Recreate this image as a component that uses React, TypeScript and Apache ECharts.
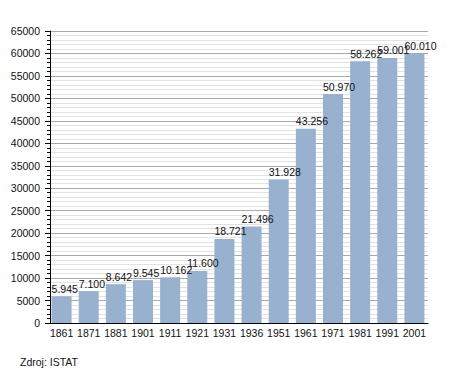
import React, { useEffect, useRef } from "react";
import * as echarts from "echarts";

const years = ["1861", "1871", "1881", "1901", "1911", "1921", "1931", "1936", "1951", "1961", "1971", "1981", "1991", "2001"];
const population = [5945, 7100, 8642, 9545, 10162, 11600, 18721, 21496, 31928, 43256, 50970, 58262, 59001, 60010];
const yMin = 0;
const yMax = 65000;
const yInterval = 5000;
const sourceNote = "Zdroj: ISTAT";

const fmt = (v: number) => {
  const s = String(Math.round(v));
  return s.replace(/\B(?=(\d{3})+(?!\d))/g, ".");
};

export default function App() {
  const ref = useRef<HTMLDivElement>(null);
  useEffect(() => {
    if (!ref.current) return;
    const chart = echarts.init(ref.current, null, { renderer: "svg" });
    const font = "'Liberation Sans', Arial, sans-serif";
    chart.setOption({
      animation: false,
      backgroundColor: "#ffffff",
      grid: { left: 48, right: 27, top: 31, bottom: 50, containLabel: false },
      xAxis: {
        type: "category",
        data: years,
        boundaryGap: true,
        axisLine: { show: true, lineStyle: { color: "#000", width: 1 } },
        axisTick: { show: false },
        axisLabel: { color: "#111", fontSize: 10.5, fontFamily: font, margin: 4, interval: 0 },
        splitLine: { show: false },
      },
      yAxis: {
        type: "value",
        min: yMin,
        max: yMax,
        interval: yInterval,
        offset: -2,
        axisLine: { show: true, lineStyle: { color: "#000", width: 1 } },
        axisTick: { show: true, length: 5, lineStyle: { color: "#000" } },
        minorTick: { show: true, splitNumber: 5, length: 3, lineStyle: { color: "#000" } },
        axisLabel: {
          color: "#111",
          fontSize: 10.5,
          fontFamily: font,
          margin: 10,
          formatter: (v: number) => String(v),
        },
        splitLine: { show: true, lineStyle: { color: "#a9a9a9", width: 1 } },
        minorSplitLine: { show: true, lineStyle: { color: "#e2e2e2", width: 1 } },
      },
      series: [
        {
          type: "bar",
          data: population,
          barWidth: 20,
          itemStyle: { color: "#98b1cf" },
          label: {
            show: true,
            position: [0, -2],
            align: "left",
            verticalAlign: "bottom",
            color: "#111",
            fontSize: 10.5,
            fontFamily: font,
            formatter: (p: any) => fmt(p.value),
          },
        },
      ],
      graphic: [
        {
          type: "text",
          left: 20,
          top: 356,
          style: { text: sourceNote, fill: "#111", fontSize: 10.5, fontFamily: font },
        },
      ],
    });
    return () => chart.dispose();
  }, []);
  return <div ref={ref} style={{ position: "fixed", left: 0, top: 0, width: 455, height: 373 }} />;
}
